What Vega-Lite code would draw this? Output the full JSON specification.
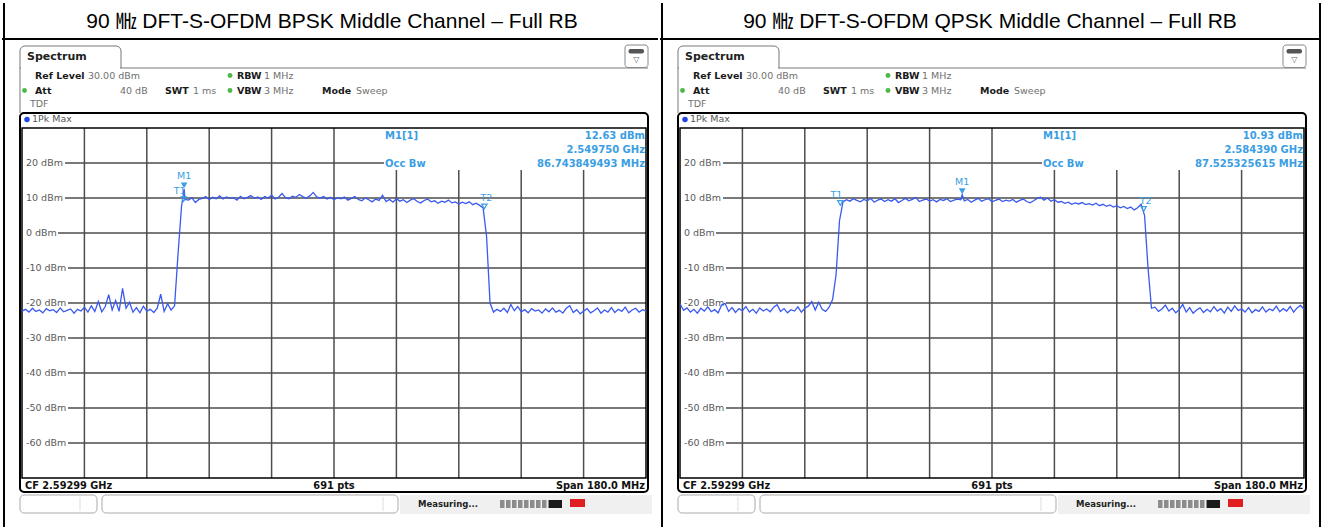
{
"$schema":"https://vega.github.io/schema/vega-lite/v6.json",
"padding":0,
"background":"white",
"bounds":"flush",
"spacing":34,
"data":{"values":[
{"panel":"BPSK","kind":"info","title":"90 ㎒ DFT-S-OFDM BPSK Middle Channel – Full RB","m1v":"12.63 dBm","m1f":"2.549750 GHz","obw":"86.743849493 MHz"},
{"panel":"QPSK","kind":"info","title":"90 ㎒ DFT-S-OFDM QPSK Middle Channel – Full RB","m1v":"10.93 dBm","m1f":"2.584390 GHz","obw":"87.525325615 MHz"},
{"panel":"BPSK","kind":"lvl","v":20,"lab":"20 dBm"},{"panel":"BPSK","kind":"lvl","v":10,"lab":"10 dBm"},{"panel":"BPSK","kind":"lvl","v":0,"lab":"0 dBm"},{"panel":"BPSK","kind":"lvl","v":-10,"lab":"-10 dBm"},{"panel":"BPSK","kind":"lvl","v":-20,"lab":"-20 dBm"},{"panel":"BPSK","kind":"lvl","v":-30,"lab":"-30 dBm"},{"panel":"BPSK","kind":"lvl","v":-40,"lab":"-40 dBm"},{"panel":"BPSK","kind":"lvl","v":-50,"lab":"-50 dBm"},{"panel":"BPSK","kind":"lvl","v":-60,"lab":"-60 dBm"},
{"panel":"QPSK","kind":"lvl","v":20,"lab":"20 dBm"},{"panel":"QPSK","kind":"lvl","v":10,"lab":"10 dBm"},{"panel":"QPSK","kind":"lvl","v":0,"lab":"0 dBm"},{"panel":"QPSK","kind":"lvl","v":-10,"lab":"-10 dBm"},{"panel":"QPSK","kind":"lvl","v":-20,"lab":"-20 dBm"},{"panel":"QPSK","kind":"lvl","v":-30,"lab":"-30 dBm"},{"panel":"QPSK","kind":"lvl","v":-40,"lab":"-40 dBm"},{"panel":"QPSK","kind":"lvl","v":-50,"lab":"-50 dBm"},{"panel":"QPSK","kind":"lvl","v":-60,"lab":"-60 dBm"},
{"panel":"BPSK","kind":"vg","f":2520.99},{"panel":"BPSK","kind":"vg","f":2538.99},{"panel":"BPSK","kind":"vg","f":2556.99},{"panel":"BPSK","kind":"vg","f":2574.99},{"panel":"BPSK","kind":"vg","f":2592.99},{"panel":"BPSK","kind":"vg","f":2610.99},{"panel":"BPSK","kind":"vg","f":2628.99},{"panel":"BPSK","kind":"vg","f":2646.99},{"panel":"BPSK","kind":"vg","f":2664.99},
{"panel":"QPSK","kind":"vg","f":2520.99},{"panel":"QPSK","kind":"vg","f":2538.99},{"panel":"QPSK","kind":"vg","f":2556.99},{"panel":"QPSK","kind":"vg","f":2574.99},{"panel":"QPSK","kind":"vg","f":2592.99},{"panel":"QPSK","kind":"vg","f":2610.99},{"panel":"QPSK","kind":"vg","f":2628.99},{"panel":"QPSK","kind":"vg","f":2646.99},{"panel":"QPSK","kind":"vg","f":2664.99},
{"panel":"BPSK","kind":"mk","name":"M1","f":2549.75,"v":12.63},{"panel":"BPSK","kind":"mk","name":"T1","f":2549.62,"v":9.4},{"panel":"BPSK","kind":"mk","name":"T2","f":2636.36,"v":7.3},
{"panel":"QPSK","kind":"mk","name":"M1","f":2584.39,"v":10.93},{"panel":"QPSK","kind":"mk","name":"T1","f":2549.23,"v":8.3},{"panel":"QPSK","kind":"mk","name":"T2","f":2636.75,"v":6.6},
{"panel":"BPSK","kind":"tr","f":2503,"v":-22.3},{"panel":"BPSK","kind":"tr","f":2504,"v":-21.8},{"panel":"BPSK","kind":"tr","f":2505,"v":-22.6},{"panel":"BPSK","kind":"tr","f":2506,"v":-21.5},{"panel":"BPSK","kind":"tr","f":2507,"v":-22.4},{"panel":"BPSK","kind":"tr","f":2508,"v":-22.0},{"panel":"BPSK","kind":"tr","f":2509,"v":-22.8},{"panel":"BPSK","kind":"tr","f":2510,"v":-21.6},{"panel":"BPSK","kind":"tr","f":2511,"v":-22.2},{"panel":"BPSK","kind":"tr","f":2512,"v":-21.9},{"panel":"BPSK","kind":"tr","f":2513,"v":-22.7},{"panel":"BPSK","kind":"tr","f":2514,"v":-21.4},{"panel":"BPSK","kind":"tr","f":2515,"v":-22.5},{"panel":"BPSK","kind":"tr","f":2516,"v":-22.1},{"panel":"BPSK","kind":"tr","f":2517,"v":-21.7},{"panel":"BPSK","kind":"tr","f":2518,"v":-22.9},{"panel":"BPSK","kind":"tr","f":2519,"v":-21.8},{"panel":"BPSK","kind":"tr","f":2520,"v":-22.3},{"panel":"BPSK","kind":"tr","f":2521,"v":-21.2},{"panel":"BPSK","kind":"tr","f":2522,"v":-22.6},{"panel":"BPSK","kind":"tr","f":2523,"v":-20.8},{"panel":"BPSK","kind":"tr","f":2524,"v":-22.4},{"panel":"BPSK","kind":"tr","f":2525,"v":-19.6},{"panel":"BPSK","kind":"tr","f":2526,"v":-22.5},{"panel":"BPSK","kind":"tr","f":2527,"v":-21.0},{"panel":"BPSK","kind":"tr","f":2528,"v":-17.6},{"panel":"BPSK","kind":"tr","f":2529,"v":-22.0},{"panel":"BPSK","kind":"tr","f":2530,"v":-19.3},{"panel":"BPSK","kind":"tr","f":2531,"v":-22.4},{"panel":"BPSK","kind":"tr","f":2532,"v":-15.8},{"panel":"BPSK","kind":"tr","f":2533,"v":-21.5},{"panel":"BPSK","kind":"tr","f":2534,"v":-19.8},{"panel":"BPSK","kind":"tr","f":2535,"v":-22.6},{"panel":"BPSK","kind":"tr","f":2536,"v":-21.3},{"panel":"BPSK","kind":"tr","f":2537,"v":-22.8},{"panel":"BPSK","kind":"tr","f":2538,"v":-20.9},{"panel":"BPSK","kind":"tr","f":2539,"v":-22.3},{"panel":"BPSK","kind":"tr","f":2540,"v":-21.8},{"panel":"BPSK","kind":"tr","f":2541,"v":-22.7},{"panel":"BPSK","kind":"tr","f":2542,"v":-21.5},{"panel":"BPSK","kind":"tr","f":2543,"v":-17.5},{"panel":"BPSK","kind":"tr","f":2544,"v":-22.4},{"panel":"BPSK","kind":"tr","f":2545,"v":-20.2},{"panel":"BPSK","kind":"tr","f":2546,"v":-22.0},{"panel":"BPSK","kind":"tr","f":2547,"v":-20.8},{"panel":"BPSK","kind":"tr","f":2548,"v":-6.0},{"panel":"BPSK","kind":"tr","f":2549,"v":7.5},{"panel":"BPSK","kind":"tr","f":2549.75,"v":12.63},{"panel":"BPSK","kind":"tr","f":2550,"v":9.6},
{"panel":"BPSK","kind":"tr","f":2551,"v":9.4},{"panel":"BPSK","kind":"tr","f":2552,"v":10.1},{"panel":"BPSK","kind":"tr","f":2553,"v":8.7},{"panel":"BPSK","kind":"tr","f":2554,"v":9.6},{"panel":"BPSK","kind":"tr","f":2555,"v":9.9},{"panel":"BPSK","kind":"tr","f":2556,"v":10.4},{"panel":"BPSK","kind":"tr","f":2557,"v":9.5},{"panel":"BPSK","kind":"tr","f":2558,"v":10.2},{"panel":"BPSK","kind":"tr","f":2559,"v":9.8},{"panel":"BPSK","kind":"tr","f":2560,"v":10.6},{"panel":"BPSK","kind":"tr","f":2561,"v":9.7},{"panel":"BPSK","kind":"tr","f":2562,"v":10.3},{"panel":"BPSK","kind":"tr","f":2563,"v":9.9},{"panel":"BPSK","kind":"tr","f":2564,"v":10.1},{"panel":"BPSK","kind":"tr","f":2565,"v":9.4},{"panel":"BPSK","kind":"tr","f":2566,"v":10.5},{"panel":"BPSK","kind":"tr","f":2567,"v":9.8},{"panel":"BPSK","kind":"tr","f":2568,"v":10.2},{"panel":"BPSK","kind":"tr","f":2569,"v":10.7},{"panel":"BPSK","kind":"tr","f":2570,"v":9.9},{"panel":"BPSK","kind":"tr","f":2571,"v":10.3},{"panel":"BPSK","kind":"tr","f":2572,"v":9.6},{"panel":"BPSK","kind":"tr","f":2573,"v":10.4},{"panel":"BPSK","kind":"tr","f":2574,"v":10.0},{"panel":"BPSK","kind":"tr","f":2575,"v":10.8},{"panel":"BPSK","kind":"tr","f":2576,"v":9.7},{"panel":"BPSK","kind":"tr","f":2577,"v":10.2},{"panel":"BPSK","kind":"tr","f":2578,"v":11.3},{"panel":"BPSK","kind":"tr","f":2579,"v":10.1},{"panel":"BPSK","kind":"tr","f":2580,"v":9.8},{"panel":"BPSK","kind":"tr","f":2581,"v":10.5},{"panel":"BPSK","kind":"tr","f":2582,"v":10.2},{"panel":"BPSK","kind":"tr","f":2583,"v":11.0},{"panel":"BPSK","kind":"tr","f":2584,"v":10.4},{"panel":"BPSK","kind":"tr","f":2585,"v":9.9},{"panel":"BPSK","kind":"tr","f":2586,"v":10.6},{"panel":"BPSK","kind":"tr","f":2587,"v":11.6},{"panel":"BPSK","kind":"tr","f":2588,"v":10.3},{"panel":"BPSK","kind":"tr","f":2589,"v":10.0},{"panel":"BPSK","kind":"tr","f":2590,"v":10.4},{"panel":"BPSK","kind":"tr","f":2591,"v":9.7},{"panel":"BPSK","kind":"tr","f":2592,"v":10.2},{"panel":"BPSK","kind":"tr","f":2593,"v":9.5},{"panel":"BPSK","kind":"tr","f":2594,"v":10.1},{"panel":"BPSK","kind":"tr","f":2595,"v":9.8},{"panel":"BPSK","kind":"tr","f":2596,"v":10.3},{"panel":"BPSK","kind":"tr","f":2597,"v":9.4},{"panel":"BPSK","kind":"tr","f":2598,"v":9.9},{"panel":"BPSK","kind":"tr","f":2599,"v":10.4},{"panel":"BPSK","kind":"tr","f":2600,"v":9.6},{"panel":"BPSK","kind":"tr","f":2601,"v":9.2},{"panel":"BPSK","kind":"tr","f":2602,"v":10.0},{"panel":"BPSK","kind":"tr","f":2603,"v":9.5},{"panel":"BPSK","kind":"tr","f":2604,"v":8.9},{"panel":"BPSK","kind":"tr","f":2605,"v":9.7},{"panel":"BPSK","kind":"tr","f":2606,"v":9.3},{"panel":"BPSK","kind":"tr","f":2607,"v":10.8},{"panel":"BPSK","kind":"tr","f":2608,"v":9.0},{"panel":"BPSK","kind":"tr","f":2609,"v":9.6},{"panel":"BPSK","kind":"tr","f":2610,"v":8.8},{"panel":"BPSK","kind":"tr","f":2611,"v":9.8},{"panel":"BPSK","kind":"tr","f":2612,"v":9.1},{"panel":"BPSK","kind":"tr","f":2613,"v":9.5},{"panel":"BPSK","kind":"tr","f":2614,"v":8.7},{"panel":"BPSK","kind":"tr","f":2615,"v":9.4},{"panel":"BPSK","kind":"tr","f":2616,"v":9.8},{"panel":"BPSK","kind":"tr","f":2617,"v":9.0},{"panel":"BPSK","kind":"tr","f":2618,"v":8.6},{"panel":"BPSK","kind":"tr","f":2619,"v":9.3},{"panel":"BPSK","kind":"tr","f":2620,"v":9.7},{"panel":"BPSK","kind":"tr","f":2621,"v":8.9},{"panel":"BPSK","kind":"tr","f":2622,"v":9.2},{"panel":"BPSK","kind":"tr","f":2623,"v":8.5},{"panel":"BPSK","kind":"tr","f":2624,"v":9.1},{"panel":"BPSK","kind":"tr","f":2625,"v":8.8},{"panel":"BPSK","kind":"tr","f":2626,"v":9.4},{"panel":"BPSK","kind":"tr","f":2627,"v":8.6},{"panel":"BPSK","kind":"tr","f":2628,"v":8.9},{"panel":"BPSK","kind":"tr","f":2629,"v":8.3},{"panel":"BPSK","kind":"tr","f":2630,"v":8.8},{"panel":"BPSK","kind":"tr","f":2631,"v":8.4},{"panel":"BPSK","kind":"tr","f":2632,"v":8.9},{"panel":"BPSK","kind":"tr","f":2633,"v":8.1},{"panel":"BPSK","kind":"tr","f":2634,"v":8.5},{"panel":"BPSK","kind":"tr","f":2635,"v":7.9},{"panel":"BPSK","kind":"tr","f":2636,"v":7.2},{"panel":"BPSK","kind":"tr","f":2637,"v":-1.0},{"panel":"BPSK","kind":"tr","f":2638,"v":-20.0},{"panel":"BPSK","kind":"tr","f":2639,"v":-22.6},
{"panel":"BPSK","kind":"tr","f":2640,"v":-21.8},{"panel":"BPSK","kind":"tr","f":2641,"v":-22.4},{"panel":"BPSK","kind":"tr","f":2642,"v":-21.5},{"panel":"BPSK","kind":"tr","f":2643,"v":-22.7},{"panel":"BPSK","kind":"tr","f":2644,"v":-20.4},{"panel":"BPSK","kind":"tr","f":2645,"v":-22.2},{"panel":"BPSK","kind":"tr","f":2646,"v":-21.0},{"panel":"BPSK","kind":"tr","f":2647,"v":-22.5},{"panel":"BPSK","kind":"tr","f":2648,"v":-21.9},{"panel":"BPSK","kind":"tr","f":2649,"v":-22.8},{"panel":"BPSK","kind":"tr","f":2650,"v":-21.6},{"panel":"BPSK","kind":"tr","f":2651,"v":-22.3},{"panel":"BPSK","kind":"tr","f":2652,"v":-22.0},{"panel":"BPSK","kind":"tr","f":2653,"v":-22.9},{"panel":"BPSK","kind":"tr","f":2654,"v":-21.7},{"panel":"BPSK","kind":"tr","f":2655,"v":-22.5},{"panel":"BPSK","kind":"tr","f":2656,"v":-21.4},{"panel":"BPSK","kind":"tr","f":2657,"v":-22.6},{"panel":"BPSK","kind":"tr","f":2658,"v":-22.1},{"panel":"BPSK","kind":"tr","f":2659,"v":-22.9},{"panel":"BPSK","kind":"tr","f":2660,"v":-21.5},{"panel":"BPSK","kind":"tr","f":2661,"v":-20.8},{"panel":"BPSK","kind":"tr","f":2662,"v":-22.7},{"panel":"BPSK","kind":"tr","f":2663,"v":-21.9},{"panel":"BPSK","kind":"tr","f":2664,"v":-23.1},{"panel":"BPSK","kind":"tr","f":2665,"v":-22.3},{"panel":"BPSK","kind":"tr","f":2666,"v":-21.6},{"panel":"BPSK","kind":"tr","f":2667,"v":-22.8},{"panel":"BPSK","kind":"tr","f":2668,"v":-22.2},{"panel":"BPSK","kind":"tr","f":2669,"v":-21.4},{"panel":"BPSK","kind":"tr","f":2670,"v":-22.9},{"panel":"BPSK","kind":"tr","f":2671,"v":-22.0},{"panel":"BPSK","kind":"tr","f":2672,"v":-22.6},{"panel":"BPSK","kind":"tr","f":2673,"v":-21.3},{"panel":"BPSK","kind":"tr","f":2674,"v":-22.7},{"panel":"BPSK","kind":"tr","f":2675,"v":-21.8},{"panel":"BPSK","kind":"tr","f":2676,"v":-22.4},{"panel":"BPSK","kind":"tr","f":2677,"v":-21.2},{"panel":"BPSK","kind":"tr","f":2678,"v":-22.8},{"panel":"BPSK","kind":"tr","f":2679,"v":-22.0},{"panel":"BPSK","kind":"tr","f":2680,"v":-21.5},{"panel":"BPSK","kind":"tr","f":2681,"v":-22.6},{"panel":"BPSK","kind":"tr","f":2682,"v":-21.9},{"panel":"BPSK","kind":"tr","f":2683,"v":-22.3},
{"panel":"QPSK","kind":"tr","f":2503,"v":-20.2},{"panel":"QPSK","kind":"tr","f":2504,"v":-22.1},{"panel":"QPSK","kind":"tr","f":2505,"v":-21.4},{"panel":"QPSK","kind":"tr","f":2506,"v":-22.6},{"panel":"QPSK","kind":"tr","f":2507,"v":-21.8},{"panel":"QPSK","kind":"tr","f":2508,"v":-22.9},{"panel":"QPSK","kind":"tr","f":2509,"v":-21.5},{"panel":"QPSK","kind":"tr","f":2510,"v":-22.3},{"panel":"QPSK","kind":"tr","f":2511,"v":-21.1},{"panel":"QPSK","kind":"tr","f":2512,"v":-22.5},{"panel":"QPSK","kind":"tr","f":2513,"v":-21.9},{"panel":"QPSK","kind":"tr","f":2514,"v":-22.8},{"panel":"QPSK","kind":"tr","f":2515,"v":-20.6},{"panel":"QPSK","kind":"tr","f":2516,"v":-20.1},{"panel":"QPSK","kind":"tr","f":2517,"v":-22.4},{"panel":"QPSK","kind":"tr","f":2518,"v":-21.3},{"panel":"QPSK","kind":"tr","f":2519,"v":-22.7},{"panel":"QPSK","kind":"tr","f":2520,"v":-21.6},{"panel":"QPSK","kind":"tr","f":2521,"v":-22.2},{"panel":"QPSK","kind":"tr","f":2522,"v":-21.0},{"panel":"QPSK","kind":"tr","f":2523,"v":-22.6},{"panel":"QPSK","kind":"tr","f":2524,"v":-21.8},{"panel":"QPSK","kind":"tr","f":2525,"v":-22.9},{"panel":"QPSK","kind":"tr","f":2526,"v":-21.4},{"panel":"QPSK","kind":"tr","f":2527,"v":-22.3},{"panel":"QPSK","kind":"tr","f":2528,"v":-21.7},{"panel":"QPSK","kind":"tr","f":2529,"v":-22.5},{"panel":"QPSK","kind":"tr","f":2530,"v":-21.2},{"panel":"QPSK","kind":"tr","f":2531,"v":-20.5},{"panel":"QPSK","kind":"tr","f":2532,"v":-22.4},{"panel":"QPSK","kind":"tr","f":2533,"v":-21.6},{"panel":"QPSK","kind":"tr","f":2534,"v":-22.8},{"panel":"QPSK","kind":"tr","f":2535,"v":-21.9},{"panel":"QPSK","kind":"tr","f":2536,"v":-22.3},{"panel":"QPSK","kind":"tr","f":2537,"v":-21.1},{"panel":"QPSK","kind":"tr","f":2538,"v":-22.6},{"panel":"QPSK","kind":"tr","f":2539,"v":-21.5},{"panel":"QPSK","kind":"tr","f":2540,"v":-20.9},{"panel":"QPSK","kind":"tr","f":2541,"v":-19.6},{"panel":"QPSK","kind":"tr","f":2542,"v":-22.0},{"panel":"QPSK","kind":"tr","f":2543,"v":-19.8},{"panel":"QPSK","kind":"tr","f":2544,"v":-21.8},{"panel":"QPSK","kind":"tr","f":2545,"v":-22.4},{"panel":"QPSK","kind":"tr","f":2546,"v":-21.2},{"panel":"QPSK","kind":"tr","f":2547,"v":-19.0},{"panel":"QPSK","kind":"tr","f":2548,"v":-12.0},{"panel":"QPSK","kind":"tr","f":2549,"v":3.5},{"panel":"QPSK","kind":"tr","f":2550,"v":8.9},
{"panel":"QPSK","kind":"tr","f":2551,"v":9.5},{"panel":"QPSK","kind":"tr","f":2552,"v":9.1},{"panel":"QPSK","kind":"tr","f":2553,"v":9.8},{"panel":"QPSK","kind":"tr","f":2554,"v":9.3},{"panel":"QPSK","kind":"tr","f":2555,"v":8.9},{"panel":"QPSK","kind":"tr","f":2556,"v":9.6},{"panel":"QPSK","kind":"tr","f":2557,"v":9.2},{"panel":"QPSK","kind":"tr","f":2558,"v":9.9},{"panel":"QPSK","kind":"tr","f":2559,"v":8.8},{"panel":"QPSK","kind":"tr","f":2560,"v":9.4},{"panel":"QPSK","kind":"tr","f":2561,"v":9.7},{"panel":"QPSK","kind":"tr","f":2562,"v":9.0},{"panel":"QPSK","kind":"tr","f":2563,"v":9.5},{"panel":"QPSK","kind":"tr","f":2564,"v":9.1},{"panel":"QPSK","kind":"tr","f":2565,"v":9.8},{"panel":"QPSK","kind":"tr","f":2566,"v":8.7},{"panel":"QPSK","kind":"tr","f":2567,"v":9.3},{"panel":"QPSK","kind":"tr","f":2568,"v":9.9},{"panel":"QPSK","kind":"tr","f":2569,"v":9.2},{"panel":"QPSK","kind":"tr","f":2570,"v":9.6},{"panel":"QPSK","kind":"tr","f":2571,"v":10.1},{"panel":"QPSK","kind":"tr","f":2572,"v":9.0},{"panel":"QPSK","kind":"tr","f":2573,"v":9.4},{"panel":"QPSK","kind":"tr","f":2574,"v":9.7},{"panel":"QPSK","kind":"tr","f":2575,"v":9.1},{"panel":"QPSK","kind":"tr","f":2576,"v":9.5},{"panel":"QPSK","kind":"tr","f":2577,"v":8.9},{"panel":"QPSK","kind":"tr","f":2578,"v":9.6},{"panel":"QPSK","kind":"tr","f":2579,"v":9.3},{"panel":"QPSK","kind":"tr","f":2580,"v":9.8},{"panel":"QPSK","kind":"tr","f":2581,"v":9.0},{"panel":"QPSK","kind":"tr","f":2582,"v":9.4},{"panel":"QPSK","kind":"tr","f":2583,"v":9.7},{"panel":"QPSK","kind":"tr","f":2584,"v":9.5},{"panel":"QPSK","kind":"tr","f":2584.39,"v":10.93},{"panel":"QPSK","kind":"tr","f":2585,"v":9.2},{"panel":"QPSK","kind":"tr","f":2586,"v":9.6},{"panel":"QPSK","kind":"tr","f":2587,"v":8.8},{"panel":"QPSK","kind":"tr","f":2588,"v":9.4},{"panel":"QPSK","kind":"tr","f":2589,"v":9.9},{"panel":"QPSK","kind":"tr","f":2590,"v":9.1},{"panel":"QPSK","kind":"tr","f":2591,"v":9.5},{"panel":"QPSK","kind":"tr","f":2592,"v":9.8},{"panel":"QPSK","kind":"tr","f":2593,"v":8.9},{"panel":"QPSK","kind":"tr","f":2594,"v":9.3},{"panel":"QPSK","kind":"tr","f":2595,"v":9.7},{"panel":"QPSK","kind":"tr","f":2596,"v":9.0},{"panel":"QPSK","kind":"tr","f":2597,"v":9.4},{"panel":"QPSK","kind":"tr","f":2598,"v":9.1},{"panel":"QPSK","kind":"tr","f":2599,"v":9.6},{"panel":"QPSK","kind":"tr","f":2600,"v":8.8},{"panel":"QPSK","kind":"tr","f":2601,"v":9.3},{"panel":"QPSK","kind":"tr","f":2602,"v":9.7},{"panel":"QPSK","kind":"tr","f":2603,"v":9.0},{"panel":"QPSK","kind":"tr","f":2604,"v":8.6},{"panel":"QPSK","kind":"tr","f":2605,"v":9.2},{"panel":"QPSK","kind":"tr","f":2606,"v":9.9},{"panel":"QPSK","kind":"tr","f":2607,"v":10.2},{"panel":"QPSK","kind":"tr","f":2608,"v":9.4},{"panel":"QPSK","kind":"tr","f":2609,"v":10.0},{"panel":"QPSK","kind":"tr","f":2610,"v":9.1},{"panel":"QPSK","kind":"tr","f":2611,"v":9.5},{"panel":"QPSK","kind":"tr","f":2612,"v":8.8},{"panel":"QPSK","kind":"tr","f":2613,"v":9.0},{"panel":"QPSK","kind":"tr","f":2614,"v":8.5},{"panel":"QPSK","kind":"tr","f":2615,"v":8.8},{"panel":"QPSK","kind":"tr","f":2616,"v":8.2},{"panel":"QPSK","kind":"tr","f":2617,"v":8.6},{"panel":"QPSK","kind":"tr","f":2618,"v":8.3},{"panel":"QPSK","kind":"tr","f":2619,"v":8.7},{"panel":"QPSK","kind":"tr","f":2620,"v":8.1},{"panel":"QPSK","kind":"tr","f":2621,"v":8.4},{"panel":"QPSK","kind":"tr","f":2622,"v":8.0},{"panel":"QPSK","kind":"tr","f":2623,"v":8.5},{"panel":"QPSK","kind":"tr","f":2624,"v":7.8},{"panel":"QPSK","kind":"tr","f":2625,"v":8.2},{"panel":"QPSK","kind":"tr","f":2626,"v":7.6},{"panel":"QPSK","kind":"tr","f":2627,"v":8.0},{"panel":"QPSK","kind":"tr","f":2628,"v":7.4},{"panel":"QPSK","kind":"tr","f":2629,"v":7.8},{"panel":"QPSK","kind":"tr","f":2630,"v":7.2},{"panel":"QPSK","kind":"tr","f":2631,"v":7.6},{"panel":"QPSK","kind":"tr","f":2632,"v":7.0},{"panel":"QPSK","kind":"tr","f":2633,"v":7.4},{"panel":"QPSK","kind":"tr","f":2634,"v":6.6},{"panel":"QPSK","kind":"tr","f":2635,"v":7.2},{"panel":"QPSK","kind":"tr","f":2636,"v":8.2},{"panel":"QPSK","kind":"tr","f":2637,"v":5.0},{"panel":"QPSK","kind":"tr","f":2638,"v":-10.0},{"panel":"QPSK","kind":"tr","f":2639,"v":-21.5},
{"panel":"QPSK","kind":"tr","f":2640,"v":-21.2},{"panel":"QPSK","kind":"tr","f":2641,"v":-22.4},{"panel":"QPSK","kind":"tr","f":2642,"v":-21.7},{"panel":"QPSK","kind":"tr","f":2643,"v":-20.6},{"panel":"QPSK","kind":"tr","f":2644,"v":-22.3},{"panel":"QPSK","kind":"tr","f":2645,"v":-21.5},{"panel":"QPSK","kind":"tr","f":2646,"v":-22.8},{"panel":"QPSK","kind":"tr","f":2647,"v":-21.9},{"panel":"QPSK","kind":"tr","f":2648,"v":-20.4},{"panel":"QPSK","kind":"tr","f":2649,"v":-22.6},{"panel":"QPSK","kind":"tr","f":2650,"v":-21.3},{"panel":"QPSK","kind":"tr","f":2651,"v":-22.9},{"panel":"QPSK","kind":"tr","f":2652,"v":-22.0},{"panel":"QPSK","kind":"tr","f":2653,"v":-21.4},{"panel":"QPSK","kind":"tr","f":2654,"v":-22.7},{"panel":"QPSK","kind":"tr","f":2655,"v":-21.8},{"panel":"QPSK","kind":"tr","f":2656,"v":-22.5},{"panel":"QPSK","kind":"tr","f":2657,"v":-21.0},{"panel":"QPSK","kind":"tr","f":2658,"v":-22.3},{"panel":"QPSK","kind":"tr","f":2659,"v":-21.6},{"panel":"QPSK","kind":"tr","f":2660,"v":-22.9},{"panel":"QPSK","kind":"tr","f":2661,"v":-21.2},{"panel":"QPSK","kind":"tr","f":2662,"v":-22.4},{"panel":"QPSK","kind":"tr","f":2663,"v":-20.8},{"panel":"QPSK","kind":"tr","f":2664,"v":-22.1},{"panel":"QPSK","kind":"tr","f":2665,"v":-21.7},{"panel":"QPSK","kind":"tr","f":2666,"v":-22.6},{"panel":"QPSK","kind":"tr","f":2667,"v":-21.3},{"panel":"QPSK","kind":"tr","f":2668,"v":-22.8},{"panel":"QPSK","kind":"tr","f":2669,"v":-21.9},{"panel":"QPSK","kind":"tr","f":2670,"v":-22.4},{"panel":"QPSK","kind":"tr","f":2671,"v":-21.1},{"panel":"QPSK","kind":"tr","f":2672,"v":-22.6},{"panel":"QPSK","kind":"tr","f":2673,"v":-21.7},{"panel":"QPSK","kind":"tr","f":2674,"v":-22.2},{"panel":"QPSK","kind":"tr","f":2675,"v":-20.9},{"panel":"QPSK","kind":"tr","f":2676,"v":-22.5},{"panel":"QPSK","kind":"tr","f":2677,"v":-21.6},{"panel":"QPSK","kind":"tr","f":2678,"v":-22.3},{"panel":"QPSK","kind":"tr","f":2679,"v":-21.0},{"panel":"QPSK","kind":"tr","f":2680,"v":-22.6},{"panel":"QPSK","kind":"tr","f":2681,"v":-21.4},{"panel":"QPSK","kind":"tr","f":2682,"v":-20.7},{"panel":"QPSK","kind":"tr","f":2683,"v":-21.8}
]},
"facet":{"column":{"field":"panel","type":"nominal","sort":["BPSK","QPSK"],"title":null,"header":{"labels":false}}},
"spec":{
"width":624,"height":350,
"layer":[
{"transform":[{"filter":"datum.kind=='info'"}],"mark":{"type":"rect","fill":"white"},"encoding":{"x":{"datum":2496.644},"x2":{"datum":2687.605},"y":{"datum":66.286},"y2":{"datum":-84.571}}},
{"transform":[{"filter":"datum.kind=='info'"}],"mark":{"type":"rule","stroke":"black","strokeWidth":2},"encoding":{"x":{"datum":2497.798},"y":{"datum":65.714},"y2":{"datum":-84.0}}},
{"transform":[{"filter":"datum.kind=='info'"}],"mark":{"type":"rule","stroke":"black","strokeWidth":2},"encoding":{"x":{"datum":2687.605},"y":{"datum":65.714},"y2":{"datum":-84.0}}},
{"transform":[{"filter":"datum.kind=='info'"}],"mark":{"type":"rule","stroke":"black","strokeWidth":2},"encoding":{"x":{"datum":2497.221},"x2":{"datum":2687.605},"y":{"datum":55.429}}},
{"transform":[{"filter":"datum.kind=='info'"}],"mark":{"type":"text","align":"center","baseline":"alphabetic","font":"Liberation Sans, Noto Sans CJK KR","fontSize":21,"fill":"black"},"encoding":{"x":{"datum":2592.413},"y":{"datum":58.657},"text":{"field":"title"}}},
{"transform":[{"filter":"datum.kind=='info'"}],"mark":{"type":"rect","fill":"white","stroke":"#777","strokeWidth":1,"cornerRadiusTopLeft":5,"cornerRadiusTopRight":5},"encoding":{"x":{"datum":2502.413},"x2":{"datum":2531.548},"y":{"datum":53.429},"y2":{"datum":47.143}}},
{"transform":[{"filter":"datum.kind=='info'"}],"mark":{"type":"rule","stroke":"white","strokeWidth":2},"encoding":{"x":{"datum":2502.702},"x2":{"datum":2531.26},"y":{"datum":47.143}}},
{"transform":[{"filter":"datum.kind=='info'"}],"mark":{"type":"rule","stroke":"#777","strokeWidth":1},"encoding":{"x":{"datum":2531.548},"x2":{"datum":2683.567},"y":{"datum":47.143}}},
{"transform":[{"filter":"datum.kind=='info'"}],"mark":{"type":"rule","stroke":"#777","strokeWidth":1},"encoding":{"x":{"datum":2502.413},"y":{"datum":47.143},"y2":{"datum":34.286}}},
{"transform":[{"filter":"datum.kind=='info'"}],"mark":{"type":"text","fontSize":11,"fontWeight":"bold","fill":"#222","text":"Spectrum"},"encoding":{"x":{"datum":2504.432},"y":{"datum":50.143}}},
{"transform":[{"filter":"datum.kind=='info'"}],"mark":{"type":"rect","fill":"white","stroke":"#888","strokeWidth":1,"cornerRadius":3},"encoding":{"x":{"datum":2676.932},"x2":{"datum":2683.567},"y":{"datum":53.714},"y2":{"datum":47.286}}},
{"transform":[{"filter":"datum.kind=='info'"}],"mark":{"type":"rect","fill":"#555","cornerRadius":2},"encoding":{"x":{"datum":2677.942},"x2":{"datum":2682.414},"y":{"datum":52.571},"y2":{"datum":51.286}}},
{"transform":[{"filter":"datum.kind=='info'"}],"mark":{"type":"text","align":"center","fontSize":8,"fill":"#666","text":"▽"},"encoding":{"x":{"datum":2680.193},"y":{"datum":49.571}}},
{"transform":[{"filter":"datum.kind=='info'"}],"mark":{"type":"text","fontWeight":"bold","fill":"#1a1a1a","text":"Ref Level"},"encoding":{"x":{"datum":2506.74},"y":{"datum":45.0}}},
{"transform":[{"filter":"datum.kind=='info'"}],"mark":{"type":"text","fill":"#707070","text":"30.00 dBm"},"encoding":{"x":{"datum":2522.029},"y":{"datum":45.0}}},
{"transform":[{"filter":"datum.kind=='info'"}],"mark":{"type":"point","shape":"circle","filled":true,"opacity":1,"fill":"#4db848","size":24},"encoding":{"x":{"datum":2562.99},"y":{"datum":45.0}}},
{"transform":[{"filter":"datum.kind=='info'"}],"mark":{"type":"text","fontWeight":"bold","fill":"#1a1a1a","text":"RBW"},"encoding":{"x":{"datum":2565.009},"y":{"datum":45.0}}},
{"transform":[{"filter":"datum.kind=='info'"}],"mark":{"type":"text","fill":"#707070","text":"1 MHz"},"encoding":{"x":{"datum":2572.798},"y":{"datum":45.0}}},
{"transform":[{"filter":"datum.kind=='info'"}],"mark":{"type":"point","shape":"circle","filled":true,"opacity":1,"fill":"#4db848","size":24},"encoding":{"x":{"datum":2503.711},"y":{"datum":40.714}}},
{"transform":[{"filter":"datum.kind=='info'"}],"mark":{"type":"text","fontWeight":"bold","fill":"#1a1a1a","text":"Att"},"encoding":{"x":{"datum":2506.74},"y":{"datum":40.714}}},
{"transform":[{"filter":"datum.kind=='info'"}],"mark":{"type":"text","fill":"#707070","text":"40 dB"},"encoding":{"x":{"datum":2531.26},"y":{"datum":40.714}}},
{"transform":[{"filter":"datum.kind=='info'"}],"mark":{"type":"text","fontWeight":"bold","fill":"#1a1a1a","text":"SWT"},"encoding":{"x":{"datum":2544.24},"y":{"datum":40.714}}},
{"transform":[{"filter":"datum.kind=='info'"}],"mark":{"type":"text","fill":"#707070","text":"1 ms"},"encoding":{"x":{"datum":2552.317},"y":{"datum":40.714}}},
{"transform":[{"filter":"datum.kind=='info'"}],"mark":{"type":"point","shape":"circle","filled":true,"opacity":1,"fill":"#4db848","size":24},"encoding":{"x":{"datum":2562.99},"y":{"datum":40.714}}},
{"transform":[{"filter":"datum.kind=='info'"}],"mark":{"type":"text","fontWeight":"bold","fill":"#1a1a1a","text":"VBW"},"encoding":{"x":{"datum":2565.009},"y":{"datum":40.714}}},
{"transform":[{"filter":"datum.kind=='info'"}],"mark":{"type":"text","fill":"#707070","text":"3 MHz"},"encoding":{"x":{"datum":2572.798},"y":{"datum":40.714}}},
{"transform":[{"filter":"datum.kind=='info'"}],"mark":{"type":"text","fontWeight":"bold","fill":"#1a1a1a","text":"Mode"},"encoding":{"x":{"datum":2589.528},"y":{"datum":40.714}}},
{"transform":[{"filter":"datum.kind=='info'"}],"mark":{"type":"text","fill":"#707070","text":"Sweep"},"encoding":{"x":{"datum":2599.337},"y":{"datum":40.714}}},
{"transform":[{"filter":"datum.kind=='info'"}],"mark":{"type":"text","fill":"#707070","text":"TDF"},"encoding":{"x":{"datum":2505.298},"y":{"datum":37.0}}},
{"transform":[{"filter":"datum.kind=='info'"}],"mark":{"type":"rect","fill":"transparent","stroke":"black","strokeWidth":2,"cornerRadius":4},"encoding":{"x":{"datum":2502.413},"x2":{"datum":2683.567},"y":{"datum":34.286},"y2":{"datum":-74}}},
{"transform":[{"filter":"datum.kind=='info'"}],"mark":{"type":"point","shape":"circle","filled":true,"opacity":1,"fill":"#1f45e6","size":30},"encoding":{"x":{"datum":2504.432},"y":{"datum":32.429}}},
{"transform":[{"filter":"datum.kind=='info'"}],"mark":{"type":"text","fill":"#555","text":"1Pk Max"},"encoding":{"x":{"datum":2505.875},"y":{"datum":32.429}}},
{"transform":[{"filter":"datum.kind=='vg'"}],"mark":{"type":"rule","stroke":"#4d4d4d","strokeWidth":1.5},"encoding":{"x":{"field":"f","type":"quantitative"},"y":{"datum":30},"y2":{"datum":-70}}},
{"transform":[{"filter":"datum.kind=='lvl' && datum.v>=10"}],"mark":{"type":"rule","stroke":"#4d4d4d","strokeWidth":1.5},"encoding":{"x":{"datum":2515.394},"x2":{"datum":2682.99},"y":{"field":"v","type":"quantitative"}}},
{"transform":[{"filter":"datum.kind=='lvl' && datum.v==0"}],"mark":{"type":"rule","stroke":"#4d4d4d","strokeWidth":1.5},"encoding":{"x":{"datum":2513.375},"x2":{"datum":2682.99},"y":{"field":"v","type":"quantitative"}}},
{"transform":[{"filter":"datum.kind=='lvl' && datum.v<0"}],"mark":{"type":"rule","stroke":"#4d4d4d","strokeWidth":1.5},"encoding":{"x":{"datum":2516.259},"x2":{"datum":2682.99},"y":{"field":"v","type":"quantitative"}}},
{"transform":[{"filter":"datum.kind=='info'"}],"mark":{"type":"rect","fill":"white"},"encoding":{"x":{"datum":2607.413},"x2":{"datum":2682.99},"y":{"datum":30},"y2":{"datum":18}}},
{"transform":[{"filter":"datum.kind=='info'"}],"mark":{"type":"rect","fill":"transparent","stroke":"black","strokeWidth":1.5},"encoding":{"x":{"datum":2502.99},"x2":{"datum":2682.99},"y":{"datum":30},"y2":{"datum":-70}}},
{"transform":[{"filter":"datum.kind=='lvl'"}],"mark":{"type":"text","fill":"#5a5a5a"},"encoding":{"x":{"datum":2504.144},"y":{"field":"v","type":"quantitative"},"text":{"field":"lab"}}},
{"transform":[{"filter":"datum.kind=='info'"}],"mark":{"type":"text","fontSize":10,"fontWeight":"bold","fill":"#3a9ee4","text":"M1[1]"},"encoding":{"x":{"datum":2607.702},"y":{"datum":27.714}}},
{"transform":[{"filter":"datum.kind=='info'"}],"mark":{"type":"text","align":"right","fontSize":10,"fontWeight":"bold","fill":"#3a9ee4"},"encoding":{"x":{"datum":2682.702},"y":{"datum":27.714},"text":{"field":"m1v"}}},
{"transform":[{"filter":"datum.kind=='info'"}],"mark":{"type":"text","align":"right","fontSize":10,"fontWeight":"bold","fill":"#3a9ee4"},"encoding":{"x":{"datum":2682.702},"y":{"datum":23.857},"text":{"field":"m1f"}}},
{"transform":[{"filter":"datum.kind=='info'"}],"mark":{"type":"text","align":"right","fontSize":10,"fontWeight":"bold","fill":"#3a9ee4"},"encoding":{"x":{"datum":2682.702},"y":{"datum":19.857},"text":{"field":"obw"}}},
{"transform":[{"filter":"datum.kind=='info'"}],"mark":{"type":"text","fontSize":10,"fontWeight":"bold","fill":"#3a9ee4","text":"Occ Bw"},"encoding":{"x":{"datum":2607.702},"y":{"datum":19.857}}},
{"transform":[{"filter":"datum.kind=='tr'"}],"mark":{"type":"line","color":"#3a5af0","strokeWidth":1.3,"clip":true},"encoding":{"x":{"field":"f","type":"quantitative","scale":{"domain":[2502.99,2682.99],"nice":false,"zero":false},"axis":null},"y":{"field":"v","type":"quantitative","scale":{"domain":[-70,30],"nice":false,"zero":false},"axis":null}}},
{"transform":[{"filter":"datum.kind=='mk' && datum.name=='M1'"}],"mark":{"type":"point","shape":"triangle-down","filled":true,"opacity":1,"color":"#3a9ee4","size":45,"yOffset":-3.5},"encoding":{"x":{"field":"f","type":"quantitative"},"y":{"field":"v","type":"quantitative"}}},
{"transform":[{"filter":"datum.kind=='mk' && datum.name=='M1'"}],"mark":{"type":"text","align":"center","fill":"#3a9ee4","dy":-13},"encoding":{"x":{"field":"f","type":"quantitative"},"y":{"field":"v","type":"quantitative"},"text":{"field":"name"}}},
{"transform":[{"filter":"datum.kind=='mk' && datum.name!='M1'"}],"mark":{"type":"point","shape":"triangle-down","filled":false,"opacity":1,"color":"#3a9ee4","strokeWidth":1.2,"size":28,"yOffset":-1},"encoding":{"x":{"field":"f","type":"quantitative"},"y":{"field":"v","type":"quantitative"}}},
{"transform":[{"filter":"datum.kind=='mk' && datum.name=='T1'"}],"mark":{"type":"text","align":"center","fill":"#3a9ee4","dy":-9,"dx":-4},"encoding":{"x":{"field":"f","type":"quantitative"},"y":{"field":"v","type":"quantitative"},"text":{"field":"name"}}},
{"transform":[{"filter":"datum.kind=='mk' && datum.name=='T2'"}],"mark":{"type":"text","align":"center","fill":"#3a9ee4","dy":-9,"dx":2},"encoding":{"x":{"field":"f","type":"quantitative"},"y":{"field":"v","type":"quantitative"},"text":{"field":"name"}}},
{"transform":[{"filter":"datum.kind=='info'"}],"mark":{"type":"text","fontSize":9.8,"fontWeight":"bold","fill":"#111","text":"CF 2.59299 GHz"},"encoding":{"x":{"datum":2503.855},"y":{"datum":-72.143}}},
{"transform":[{"filter":"datum.kind=='info'"}],"mark":{"type":"text","align":"center","fontSize":9.8,"fontWeight":"bold","fill":"#111","text":"691 pts"},"encoding":{"x":{"datum":2592.99},"y":{"datum":-72.143}}},
{"transform":[{"filter":"datum.kind=='info'"}],"mark":{"type":"text","align":"right","fontSize":9.8,"fontWeight":"bold","fill":"#111","text":"Span 180.0 MHz"},"encoding":{"x":{"datum":2682.702},"y":{"datum":-72.143}}},
{"transform":[{"filter":"datum.kind=='info'"}],"mark":{"type":"rect","fill":"#f0f0f0"},"encoding":{"x":{"datum":2612.029},"x2":{"datum":2684.721},"y":{"datum":-74.857},"y2":{"datum":-80.286}}},
{"transform":[{"filter":"datum.kind=='info'"}],"mark":{"type":"rect","fill":"white","stroke":"#aaa","strokeWidth":1,"cornerRadius":4},"encoding":{"x":{"datum":2502.413},"x2":{"datum":2524.625},"y":{"datum":-74.857},"y2":{"datum":-80.0}}},
{"transform":[{"filter":"datum.kind=='info'"}],"mark":{"type":"rule","stroke":"#ddd","strokeWidth":1},"encoding":{"x":{"datum":2519.721},"y":{"datum":-75.429},"y2":{"datum":-79.429}}},
{"transform":[{"filter":"datum.kind=='info'"}],"mark":{"type":"rect","fill":"white","stroke":"#aaa","strokeWidth":1,"cornerRadius":4},"encoding":{"x":{"datum":2526.067},"x2":{"datum":2611.452},"y":{"datum":-74.857},"y2":{"datum":-80.0}}},
{"transform":[{"filter":"datum.kind=='info'"}],"mark":{"type":"rule","stroke":"#ddd","strokeWidth":1},"encoding":{"x":{"datum":2607.125},"y":{"datum":-75.429},"y2":{"datum":-79.429}}},
{"transform":[{"filter":"datum.kind=='info'"}],"mark":{"type":"text","fontSize":8.5,"fontWeight":"bold","fill":"#222","text":"Measuring..."},"encoding":{"x":{"datum":2617.221},"y":{"datum":-77.429}}},
{"transform":[{"filter":"datum.kind=='info'"}],"mark":{"type":"rule","stroke":"#8c8c8c","strokeWidth":8,"strokeDash":[4.5,1.5]},"encoding":{"x":{"datum":2640.875},"x2":{"datum":2655.01},"y":{"datum":-77.429}}},
{"transform":[{"filter":"datum.kind=='info'"}],"mark":{"type":"rule","stroke":"#1a1a1a","strokeWidth":8},"encoding":{"x":{"datum":2655.01},"x2":{"datum":2658.76},"y":{"datum":-77.429}}},
{"transform":[{"filter":"datum.kind=='info'"}],"mark":{"type":"rect","fill":"#e02020"},"encoding":{"x":{"datum":2661.067},"x2":{"datum":2665.394},"y":{"datum":-76.0},"y2":{"datum":-78.286}}}
]},
"config":{"view":{"stroke":null},"axis":{"disable":true},"text":{"font":"DejaVu Sans","fontSize":9.5,"align":"left","baseline":"middle"},"rule":{"strokeCap":"butt"}}
}
